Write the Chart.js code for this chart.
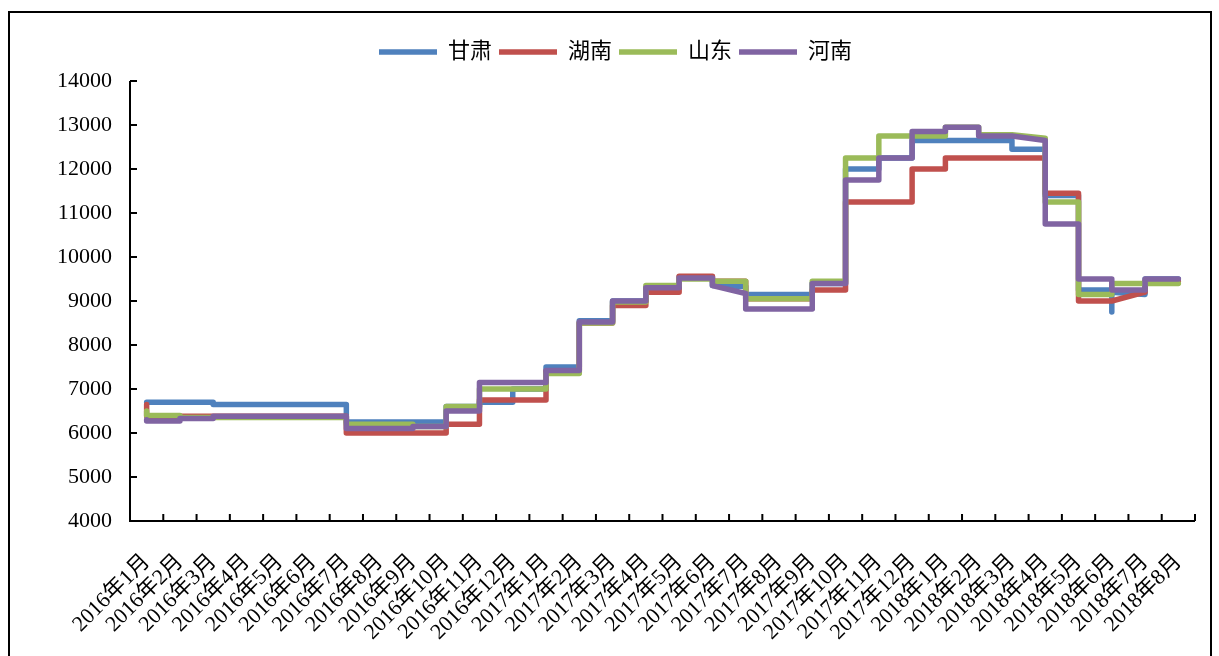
<!DOCTYPE html>
<html><head><meta charset="utf-8">
<script src="https://cdn.jsdelivr.net/npm/chart.js@4.4.1/dist/chart.umd.min.js"></script>
<style>html,body{margin:0;padding:0;background:#fff;} #wrap{position:relative;width:1219px;height:656px;}</style>
</head><body><div id="wrap"><canvas id="c"></canvas></div>
<script>
const months = ['2016年1月','2016年2月','2016年3月','2016年4月','2016年5月','2016年6月','2016年7月','2016年8月','2016年9月','2016年10月','2016年11月','2016年12月',
  '2017年1月','2017年2月','2017年3月','2017年4月','2017年5月','2017年6月','2017年7月','2017年8月','2017年9月','2017年10月','2017年11月','2017年12月',
  '2018年1月','2018年2月','2018年3月','2018年4月','2018年5月','2018年6月','2018年7月','2018年8月'];
const seriesNames = ['甘肃','湖南','山东','河南'];
// values observed within each month (first -> last)
const gansu = [[6700],[6700],[6700,6650],[6650],[6650],[6650],[6650,6250],[6250],[6250],[6250,6600],[6600,6700],[6700,7000],
  [7000,7500],[7500,8550],[8550,9000],[9000,9300],[9300,9550],[9550,9350],[9330,9150],[9150],[9150,9400],[9400,12000],[12000,12250],[12250,12650],
  [12650],[12650],[12650,12450],[12450,11400],[11400,9250],[9250,8750,9200],[9150,9500],[9500]];
const hunan = [[6650,6380],[6380],[6380],[6380],[6380],[6380],[6380,6000],[6000],[6000],[6000,6200],[6200,6750],[6750],
  [6750,7400],[7400,8500],[8500,8900],[8900,9200],[9200,9560],[9560,9450],[9450,9050],[9050],[9050,9250],[9250,11250],[11250],[11250,12000],
  [12000,12250],[12250],[12250],[12250,11450],[11450,9000],[9000],[9200,9450],[9450]];
const shandong = [[6500,6400],[6400,6350],[6350],[6350],[6350],[6350],[6350,6200],[6200],[6200,6150],[6150,6600],[6600,7000],[7000],
  [7000,7350],[7350,8500],[8500,8980],[8980,9350],[9350,9500],[9500,9450],[9450,9050],[9050],[9050,9450],[9450,12250],[12250,12750],[12750],
  [12750,12950],[12950,12780],[12780],[12700,11250],[11250,9150],[9150,9400],[9400],[9400]];
const henan = [[6300,6270],[6270,6330],[6330,6380],[6380],[6380],[6380],[6380,6100],[6100],[6100,6150],[6150,6500],[6500,7150],[7150],
  [7150,7420],[7420,8520],[8520,9000],[9000,9300],[9300,9520],[9520,9350],[9170,8820],[8820],[8820,9400],[9400,11750],[11750,12250],[12250,12850],
  [12850,12950],[12950,12750],[12750],[12650,10750],[10750,9500],[9500,9250],[9250,9500],[9500]];
const yMin = 4000, yMax = 14000, yStep = 1000;
const colors = ['#4F81BD','#C0504D','#9BBB59','#8064A2'];

function toPoints(list){
  const pts = [];
  list.forEach((vals, m) => vals.forEach(v => pts.push({x: months[m], y: v})));
  return pts;
}
const allSeries = [gansu, hunan, shandong, henan];
const FONT = "'Liberation Serif', 'Noto Sans CJK SC', serif";

const decor = {
  id: 'decor',
  beforeInit(chart){
    const lg = chart.legend;
    if (lg){ const f = lg.fit; lg.fit = function(){ f.call(this); this.height = 47; }; }
  },
  beforeDraw(chart){
    const ctx = chart.ctx; ctx.save();
    ctx.fillStyle = '#fff'; ctx.fillRect(0,0,chart.width,chart.height);
    ctx.strokeStyle = '#000'; ctx.lineWidth = 2; ctx.strokeRect(9,12,1202,700);
    ctx.restore();
  },
  afterDraw(chart){
    const {ctx, chartArea: a, scales: {x, y}} = chart;
    ctx.save(); ctx.strokeStyle = '#000'; ctx.lineWidth = 2; ctx.beginPath();
    ctx.moveTo(a.left, a.top); ctx.lineTo(a.left, a.bottom); ctx.lineTo(a.right, a.bottom);
    y.ticks.forEach(t => { const py = y.getPixelForValue(t.value); ctx.moveTo(a.left, py); ctx.lineTo(a.left + 7, py); });
    for (let i = 0; i <= months.length; i++){ const px = x.getPixelForValue(i - 0.5); ctx.moveTo(px, a.bottom); ctx.lineTo(px, a.bottom - 7); }
    ctx.stroke(); ctx.restore();
  }
};

new Chart(document.getElementById('c'), {
  type: 'line',
  data: {
    labels: months,
    datasets: allSeries.map((s, i) => ({
      label: seriesNames[i], data: toPoints(s), borderColor: colors[i], backgroundColor: colors[i],
      borderWidth: 5.5, pointRadius: 0, borderCapStyle: 'round', borderJoinStyle: 'round', tension: 0, fill: false,
      order: allSeries.length - i
    }))
  },
  options: {
    responsive: true, maintainAspectRatio: false, animation: false, devicePixelRatio: 1,
    layout: { padding: { left: 36, right: 24, top: 34, bottom: 0 } },
    plugins: {
      tooltip: { enabled: false },
      legend: {
        position: 'top', align: 'center',
        labels: { usePointStyle: true, pointStyle: 'line', pointStyleWidth: 58, padding: 7, color: '#000',
          font: { family: FONT, size: 22 }, sort: (a, b) => a.datasetIndex - b.datasetIndex }
      }
    },
    scales: {
      x: {
        type: 'category', offset: true,
        grid: { display: false, offset: true }, border: { display: false },
        ticks: { autoSkip: false, minRotation: 45, maxRotation: 45, padding: 20, color: '#000', font: { family: FONT, size: 22 } },
        afterFit(s){ s.height = 135; }
      },
      y: {
        min: yMin, max: yMax,
        grid: { display: false, drawTicks: false }, border: { display: false },
        ticks: { stepSize: yStep, padding: 18, color: '#000', font: { family: FONT, size: 22 }, callback: v => String(v) },
        afterFit(s){ s.width = 94; }
      }
    }
  },
  plugins: [decor]
});
</script></body></html>
